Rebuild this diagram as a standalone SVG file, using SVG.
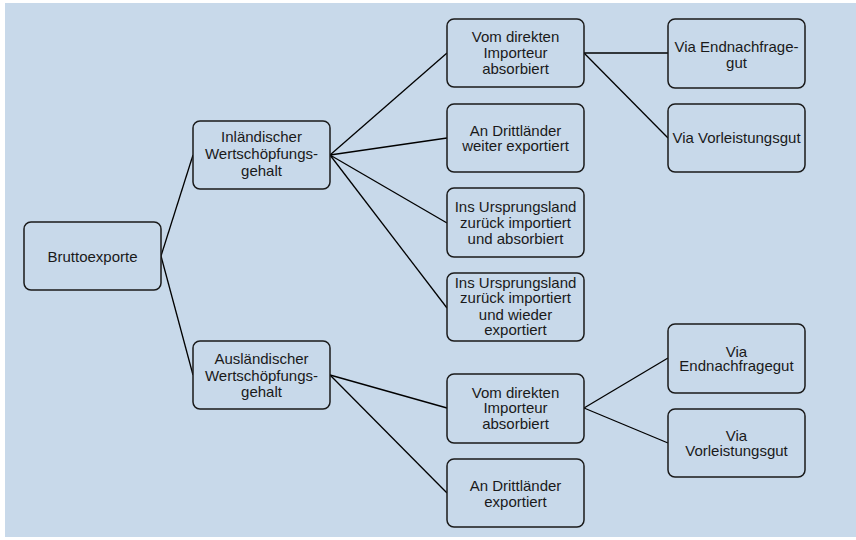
<svg xmlns="http://www.w3.org/2000/svg" width="856" height="540" viewBox="0 0 856 540">
<style>
.n rect{fill:#c8d9ea;stroke:#1a1a1a;stroke-width:1.5}
.n text{font-family:"Liberation Sans",Arial,sans-serif;font-size:15px;fill:#1a1a1a;text-anchor:middle}
#edges line{stroke:#000;stroke-width:1.3}
</style>
<rect x="5" y="3" width="851" height="534" fill="#c8d9ea"/>
<g id="edges">
<line x1="161" y1="256" x2="193" y2="155"/>
<line x1="161" y1="256" x2="193" y2="375"/>
<line x1="330" y1="155" x2="447" y2="53"/>
<line x1="330" y1="155" x2="447" y2="138"/>
<line x1="330" y1="155" x2="447" y2="223"/>
<line x1="330" y1="155" x2="447" y2="308"/>
<line x1="330" y1="375" x2="447" y2="408"/>
<line x1="330" y1="375" x2="447" y2="493"/>
<line x1="584" y1="53" x2="668" y2="53"/>
<line x1="584" y1="53" x2="668" y2="138"/>
<line x1="584" y1="408" x2="668" y2="358"/>
<line x1="584" y1="408" x2="668" y2="443"/>
</g>
<g id="bruttoexporte" class="n"><rect x="24" y="222" width="137" height="68" rx="7"/><text x="92.5" y="262">Bruttoexporte</text></g>
<g id="inlaendisch" class="n"><rect x="193" y="121" width="137" height="68" rx="7"/><text x="261.5" y="142">Inländischer</text><text x="261.5" y="159">Wertschöpfungs-</text><text x="261.5" y="176">gehalt</text></g>
<g id="auslaendisch" class="n"><rect x="193" y="341" width="137" height="68" rx="7"/><text x="261.5" y="364">Ausländischer</text><text x="261.5" y="381">Wertschöpfungs-</text><text x="261.5" y="397">gehalt</text></g>
<g id="in_direkt" class="n"><rect x="447" y="19" width="137" height="68" rx="7"/><text x="515.5" y="42">Vom direkten</text><text x="515.5" y="58">Importeur</text><text x="515.5" y="74">absorbiert</text></g>
<g id="in_dritt" class="n"><rect x="447" y="104" width="137" height="68" rx="7"/><text x="515.5" y="136">An Drittländer</text><text x="515.5" y="151">weiter exportiert</text></g>
<g id="in_zurueck_abs" class="n"><rect x="447" y="188" width="137" height="69" rx="7"/><text x="515.5" y="212">Ins Ursprungsland</text><text x="515.5" y="228">zurück importiert</text><text x="515.5" y="244">und absorbiert</text></g>
<g id="in_zurueck_exp" class="n"><rect x="447" y="273" width="137" height="68" rx="7"/><text x="515.5" y="288">Ins Ursprungsland</text><text x="515.5" y="303">zurück importiert</text><text x="515.5" y="320">und wieder</text><text x="515.5" y="335">exportiert</text></g>
<g id="aus_direkt" class="n"><rect x="447" y="374" width="137" height="69" rx="7"/><text x="515.5" y="398">Vom direkten</text><text x="515.5" y="413">Importeur</text><text x="515.5" y="429">absorbiert</text></g>
<g id="aus_dritt" class="n"><rect x="447" y="459" width="137" height="68" rx="7"/><text x="515.5" y="491">An Drittländer</text><text x="515.5" y="507">exportiert</text></g>
<g id="in_end" class="n"><rect x="668" y="19" width="137" height="69" rx="7"/><text x="736.5" y="52">Via Endnachfrage-</text><text x="736.5" y="68">gut</text></g>
<g id="in_vor" class="n"><rect x="668" y="104" width="137" height="68" rx="7"/><text x="736.5" y="143">Via Vorleistungsgut</text></g>
<g id="aus_end" class="n"><rect x="668" y="324" width="137" height="69" rx="7"/><text x="736.5" y="357">Via</text><text x="736.5" y="371">Endnachfragegut</text></g>
<g id="aus_vor" class="n"><rect x="668" y="409" width="137" height="68" rx="7"/><text x="736.5" y="441">Via</text><text x="736.5" y="456">Vorleistungsgut</text></g>
</svg>
